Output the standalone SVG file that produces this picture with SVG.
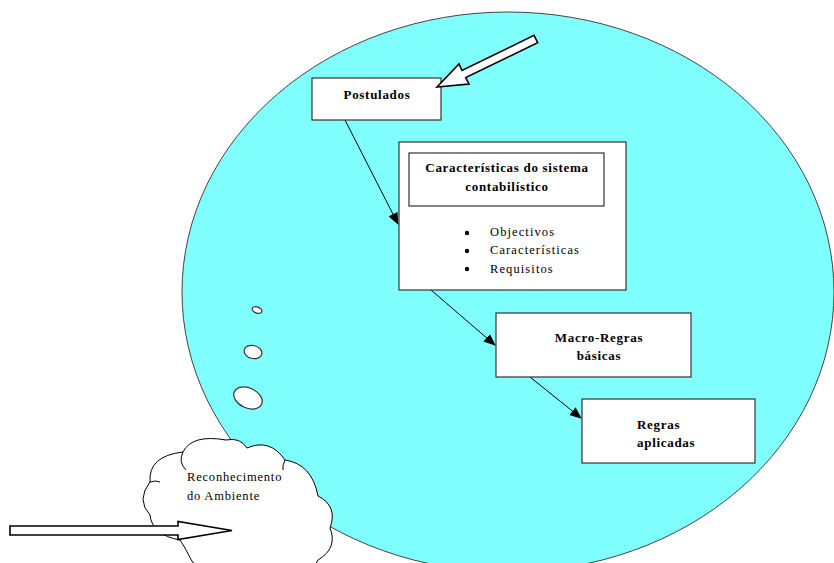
<svg xmlns="http://www.w3.org/2000/svg" width="834" height="563" viewBox="0 0 834 563">
<style>
.box{fill:#fff;stroke:#333;stroke-width:1.2}
.b{font-family:"Liberation Serif",serif;font-weight:bold;font-size:13px;letter-spacing:0.7px;fill:#000}
.r{font-family:"Liberation Serif",serif;font-size:12.5px;letter-spacing:1.1px;fill:#000}
.con{stroke:#000;stroke-width:1;fill:none}
.hollow{fill:#fff;stroke:#000;stroke-width:1.6;stroke-linejoin:miter}
</style>
<defs>
<marker id="ah" markerWidth="12" markerHeight="10" refX="11" refY="5" orient="auto" markerUnits="userSpaceOnUse">
<path d="M0,0 L12,5 L0,10 Z" fill="#000"/>
</marker>
</defs>
<rect width="834" height="563" fill="#fff"/>
<g id="ambiente">
<ellipse cx="508" cy="292" rx="326" ry="280" fill="#80ffff" stroke="#444" stroke-width="1"/>
<ellipse cx="257" cy="310" rx="5" ry="3" fill="#fff" stroke="#333" stroke-width="1.2" transform="rotate(20 257 310)"/>
<ellipse cx="253" cy="352" rx="9" ry="6.5" fill="#fff" stroke="#333" stroke-width="1.2" transform="rotate(15 253 352)"/>
<ellipse cx="248" cy="398" rx="15" ry="10" fill="#fff" stroke="#333" stroke-width="1.2" transform="rotate(25 248 398)"/>
</g>
<g id="connectors">
<line class="con" x1="345" y1="120" x2="398" y2="224" marker-end="url(#ah)"/>
<line class="con" x1="431" y1="290" x2="495" y2="345" marker-end="url(#ah)"/>
<line class="con" x1="530" y1="377" x2="581" y2="418" marker-end="url(#ah)"/>
</g>
<g id="postulados">
<rect class="box" x="312" y="78" width="129" height="42"/>
<text class="b" x="377" y="99" text-anchor="middle">Postulados</text>
</g>
<g id="arrow-top">
<polygon class="hollow" points="437,87 459,64 462,70.5 534,35.4 537.7,42.6 465.7,77.6 469,84"/>
</g>
<g id="caracteristicas">
<rect class="box" x="399" y="142" width="227" height="148"/>
<rect class="box" x="409" y="153" width="195" height="53"/>
<text class="b" x="507" y="172" text-anchor="middle">Características do sistema</text>
<text class="b" x="507" y="191" text-anchor="middle">contabilístico</text>
<circle cx="467" cy="233" r="2.2" fill="#000"/>
<circle cx="467" cy="251" r="2.2" fill="#000"/>
<circle cx="467" cy="269" r="2.2" fill="#000"/>
<text class="r" x="490" y="236">Objectivos</text>
<text class="r" x="490" y="254">Características</text>
<text class="r" x="490" y="273">Requisitos</text>
</g>
<g id="macro">
<rect class="box" x="496" y="313" width="195" height="64"/>
<text class="b" x="599" y="342" text-anchor="middle">Macro-Regras</text>
<text class="b" x="599" y="360" text-anchor="middle">básicas</text>
</g>
<g id="regras">
<rect class="box" x="582" y="399" width="173" height="64"/>
<text class="b" x="637" y="429">Regras</text>
<text class="b" x="637" y="447">aplicadas</text>
</g>
<g id="cloud">
<path d="M180,540 Q152,535 150,515 Q136,500 150,482 Q148,456 183,452 Q192,434 226,440 Q240,437 247,448 Q270,438 285,460 Q312,464 318,496 Q338,506 330,528 Q338,548 318,560 Q312,575 290,572 L200,572 Q190,560 185,548 Z" fill="#fff" stroke="#000" stroke-width="1"/>
<path d="M183,452 Q178,462 186,470 M285,460 Q282,466 283,470 M150,482 Q156,480 160,482" fill="none" stroke="#000" stroke-width="1"/>
<text class="r" x="187" y="481" style="letter-spacing:0.8px">Reconhecimento</text>
<text class="r" x="187" y="500" style="letter-spacing:0.8px">do Ambiente</text>
</g>
<g id="arrow-bottom">
<polygon class="hollow" points="10,526 178,526 178,521.5 232,530.5 178,539.5 178,535 10,535"/>
</g>
</svg>
